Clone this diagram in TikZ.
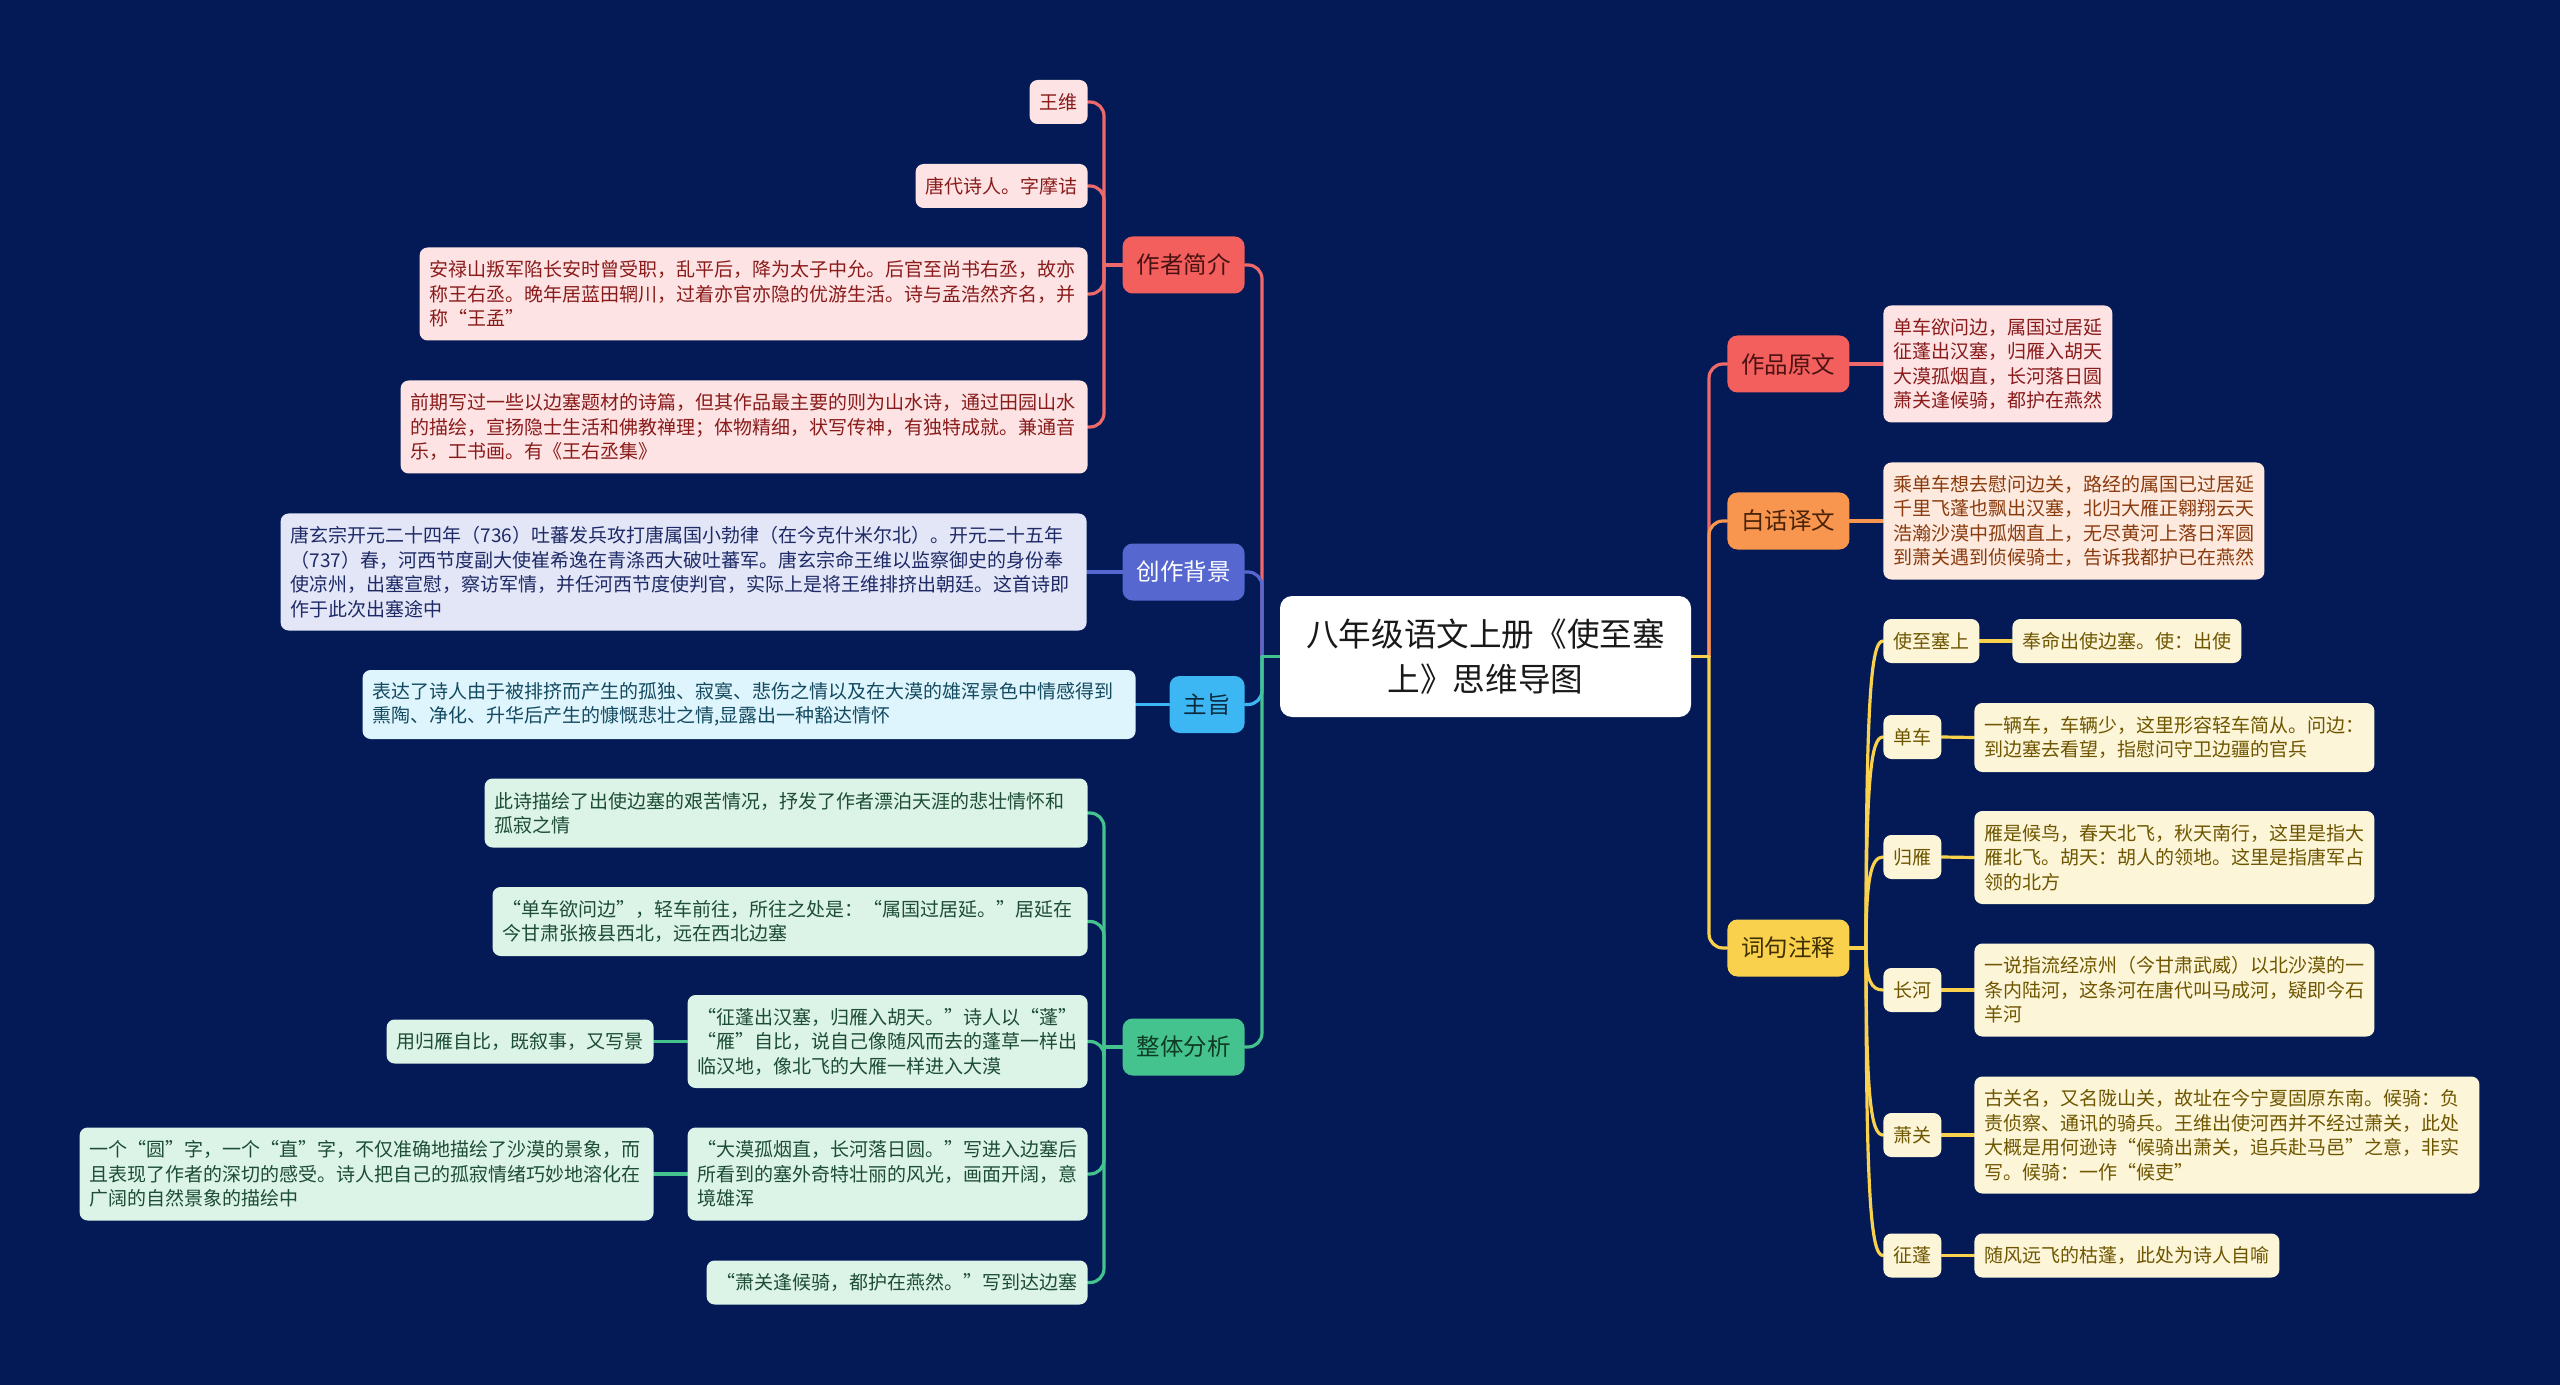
\documentclass[tikz,border=0pt]{standalone}
\usepackage{fontspec}
\setmainfont{Noto Sans CJK SC}
\usetikzlibrary{calc}
\pgfdeclarelayer{bgl}
\pgfdeclarelayer{lnl}
\pgfsetlayers{bgl,lnl,main}
\definecolor{bgc}{HTML}{031A56}
\definecolor{cRed}{HTML}{F25F5C}
\definecolor{cRedT}{HTML}{4A1212}
\definecolor{cRedL}{HTML}{FDE3E3}
\definecolor{cRedLT}{HTML}{8A1B1B}
\definecolor{cRedLn}{HTML}{EE6A6A}
\definecolor{cBlue}{HTML}{5667D0}
\definecolor{cBlueL}{HTML}{E3E6F7}
\definecolor{cBlueLT}{HTML}{1E2A66}
\definecolor{cCyan}{HTML}{3DB7F3}
\definecolor{cCyanT}{HTML}{0B2A3E}
\definecolor{cCyanL}{HTML}{DFF5FD}
\definecolor{cCyanLT}{HTML}{134A60}
\definecolor{cGreen}{HTML}{45C38F}
\definecolor{cGreenT}{HTML}{0F3A24}
\definecolor{cGreenL}{HTML}{DCF3E7}
\definecolor{cGreenLT}{HTML}{1D4D35}
\definecolor{cOrange}{HTML}{F8964F}
\definecolor{cOrangeT}{HTML}{4A2207}
\definecolor{cOrangeL}{HTML}{FDE9DD}
\definecolor{cOrangeLT}{HTML}{8A3B0E}
\definecolor{cYellow}{HTML}{F9D14C}
\definecolor{cYellowT}{HTML}{3D2F00}
\definecolor{cYellowL}{HTML}{FDF5D8}
\definecolor{cYellowLT}{HTML}{6E5600}
\newcommand\mmleaf{\fontsize{9.5pt}{12.25pt}\selectfont}
\newcommand\mmbranch{\fontsize{11.75pt}{14pt}\selectfont}
\newcommand\mmcenter{\fontsize{16.3pt}{22.5pt}\selectfont}
\begin{document}
\begin{tikzpicture}[x=0.5pt,y=-0.5pt,
  mm/.style={rounded corners=4pt, inner ysep=2pt},
  lf/.style={mm, inner xsep=5pt, align=left, font=\mmleaf},
  lnA/.style={minimum height=22pt},
  lnB/.style={minimum height=34.5pt},
  lnC/.style={minimum height=46.5pt},
  lnD/.style={minimum height=58.5pt},
  br/.style={mm, rounded corners=5pt, inner xsep=7pt, minimum height=28.5pt, font=\mmbranch},
  redL/.style={lf, fill=cRedL, text=cRedLT},
  blueL/.style={lf, fill=cBlueL, text=cBlueLT},
  cyanL/.style={lf, fill=cCyanL, text=cCyanLT},
  greenL/.style={lf, fill=cGreenL, text=cGreenLT},
  orangeL/.style={lf, fill=cOrangeL, text=cOrangeLT},
  yellowL/.style={lf, fill=cYellowL, text=cYellowLT},
  cn/.style={line width=1.6pt, line cap=round},
  cnr/.style={cn, rounded corners=7pt}
]
\begin{pgfonlayer}{bgl}
\fill[bgc] (0,0) rectangle (2560,1385);
\end{pgfonlayer}
\useasboundingbox (0,0) rectangle (2560,1385);

% center
\node[mm, rounded corners=6pt, fill=white, text=black!90, align=center, font=\mmcenter,
      minimum width=205.5pt, minimum height=60.5pt] (c) at (1485.5,656.5)
      {八年级语文上册《使至塞\\上》思维导图};

% left branches
\node[br, fill=cRed, text=cRedT, anchor=east] (zz) at (1245,265) {作者简介};
\node[br, fill=cBlue, text=white, anchor=east] (cz) at (1245,572) {创作背景};
\node[br, fill=cCyan, text=cCyanT, anchor=east] (zy) at (1245,704.5) {主旨};
\node[br, fill=cGreen, text=cGreenT, anchor=east] (zt) at (1245,1047) {整体分析};
% right branches
\node[br, fill=cRed, text=cRedT, anchor=west] (yw) at (1727,364) {作品原文};
\node[br, fill=cOrange, text=cOrangeT, anchor=west] (bh) at (1727,521) {白话译文};
\node[br, fill=cYellow, text=cYellowT, anchor=west] (cj) at (1727,948) {词句注释};

% 作者简介 leaves
\node[redL, lnA, anchor=east] (a1) at (1088,102) {王维};
\node[redL, lnA, anchor=east] (a2) at (1088,186) {唐代诗人。字摩诘};
\node[redL, lnC, anchor=east, text width=324pt] (a3) at (1088,294) {安禄山叛军陷长安时曾受职，乱平后，降为太子中允。后官至尚书右丞，故亦\\称王右丞。晚年居蓝田辋川，过着亦官亦隐的优游生活。诗与孟浩然齐名，并\\称“王孟”};
\node[redL, lnC, anchor=east, text width=333.5pt] (a4) at (1088,427) {前期写过一些以边塞题材的诗篇，但其作品最主要的则为山水诗，通过田园山水\\的描绘，宣扬隐士生活和佛教禅理；体物精细，状写传神，有独特成就。兼通音\\乐，工书画。有《王右丞集》};

% 创作背景 leaf
\node[blueL, lnD, anchor=east, text width=393pt] (b1) at (1087,572) {唐玄宗开元二十四年（736）吐蕃发兵攻打唐属国小勃律（在今克什米尔北）。开元二十五年\\（737）春，河西节度副大使崔希逸在青涤西大破吐蕃军。唐玄宗命王维以监察御史的身份奉\\使凉州，出塞宣慰，察访军情，并任河西节度使判官，实际上是将王维排挤出朝廷。这首诗即\\作于此次出塞途中};

% 主旨 leaf
\node[cyanL, lnB, anchor=east, text width=376.5pt] (z1) at (1136,704.5) {表达了诗人由于被排挤而产生的孤独、寂寞、悲伤之情以及在大漠的雄浑景色中情感得到\\熏陶、净化、升华后产生的慷慨悲壮之情,显露出一种豁达情怀};

% 整体分析 leaves
\node[greenL, lnB, anchor=east, text width=291.5pt] (t1) at (1088,813) {此诗描绘了出使边塞的艰苦情况，抒发了作者漂泊天涯的悲壮情怀和\\孤寂之情};
\node[greenL, lnB, anchor=east, text width=287.5pt] (t2) at (1088,921.5) {“单车欲问边”，轻车前往，所往之处是：“属国过居延。”居延在\\今甘肃张掖县西北，远在西北边塞};
\node[greenL, lnC, anchor=east] (t3) at (1088,1041.5) {“征蓬出汉塞，归雁入胡天。”诗人以“蓬”\\“雁”自比，说自己像随风而去的蓬草一样出\\临汉地，像北飞的大雁一样进入大漠};
\node[greenL, lnA, anchor=east] (t3a) at (654,1041.5) {用归雁自比，既叙事，又写景};
\node[greenL, lnC, anchor=east] (t4) at (1088,1174) {“大漠孤烟直，长河落日圆。”写进入边塞后\\所看到的塞外奇特壮丽的风光，画面开阔，意\\境雄浑};
\node[greenL, lnC, anchor=east, text width=277pt] (t4a) at (654,1174) {一个“圆”字，一个“直”字，不仅准确地描绘了沙漠的景象，而\\且表现了作者的深切的感受。诗人把自己的孤寂情绪巧妙地溶化在\\广阔的自然景象的描绘中};
\node[greenL, lnA, anchor=east] (t5) at (1088,1282.5) {“萧关逢候骑，都护在燕然。”写到达边塞};

% 作品原文 / 白话译文 leaves
\node[redL, lnD, anchor=west] (y1) at (1883,364) {单车欲问边，属国过居延\\征蓬出汉塞，归雁入胡天\\大漠孤烟直，长河落日圆\\萧关逢候骑，都护在燕然};
\node[orangeL, lnD, anchor=west] (h1) at (1883,521) {乘单车想去慰问边关，路经的属国已过居延\\千里飞蓬也飘出汉塞，北归大雁正翱翔云天\\浩瀚沙漠中孤烟直上，无尽黄河上落日浑圆\\到萧关遇到侦候骑士，告诉我都护已在燕然};

% 词句注释 leaves
\node[yellowL, lnA, anchor=west] (w1) at (1883,641) {使至塞上};
\node[yellowL, lnA, anchor=west] (w1a) at (2012,641) {奉命出使边塞。使：出使};
\node[yellowL, lnA, anchor=west] (w2) at (1883,737) {单车};
\node[yellowL, lnB, anchor=west] (w2a) at (1974,737.5) {一辆车，车辆少，这里形容轻车简从。问边：\\到边塞去看望，指慰问守卫边疆的官兵};
\node[yellowL, lnA, anchor=west] (w3) at (1883,857) {归雁};
\node[yellowL, lnC, anchor=west] (w3a) at (1974,857.5) {雁是候鸟，春天北飞，秋天南行，这里是指大\\雁北飞。胡天：胡人的领地。这里是指唐军占\\领的北方};
\node[yellowL, lnA, anchor=west] (w4) at (1883,990) {长河};
\node[yellowL, lnC, anchor=west] (w4a) at (1974,990) {一说指流经凉州（今甘肃武威）以北沙漠的一\\条内陆河，这条河在唐代叫马成河，疑即今石\\羊河};
\node[yellowL, lnA, anchor=west] (w5) at (1883,1135) {萧关};
\node[yellowL, lnD, anchor=west, text width=242.5pt] (w5a) at (1974,1135) {古关名，又名陇山关，故址在今宁夏固原东南。候骑：负\\责侦察、通讯的骑兵。王维出使河西并不经过萧关，此处\\大概是用何逊诗“候骑出萧关，追兵赴马邑”之意，非实\\写。候骑：一作“候吏”};
\node[yellowL, lnA, anchor=west] (w6) at (1883,1255.5) {征蓬};
\node[yellowL, lnA, anchor=west] (w6a) at (1974,1255.5) {随风远飞的枯蓬，此处为诗人自喻};

% spine coordinates
\coordinate (spL) at (1262,656.5);
\coordinate (spR) at (1709,656.5);
\coordinate (spA) at (1104,265);
\coordinate (spT) at (1104,1047);
\coordinate (spW) at (1866,948);

\begin{pgfonlayer}{lnl}
% left main
\draw[cnr, draw=cRedLn] (spL) |- (zz.east);
\draw[cn, draw=cRedLn] (c.west) -- (spL);
\draw[cnr, draw=cBlue] (spL) |- (cz.east);
\draw[cn, draw=cBlue] (c.west) -- (spL);
\draw[cnr, draw=cCyan] (spL) |- (zy.east);
\draw[cnr, draw=cGreen] (spL) |- (zt.east);
\draw[cn, draw=cGreen] (c.west) -- (spL);
% right main
\draw[cnr, draw=cRedLn] (spR) |- (yw.west);
\draw[cnr, draw=cOrange] (spR) |- (bh.west);
\draw[cnr, draw=cYellow] (spR) |- (cj.west);
\draw[cn, draw=cYellow] (c.east) -- (spR);
% 作者简介
\draw[cn, draw=cRedLn] (zz.west) -- (spA);
\draw[cnr, draw=cRedLn] (spA) |- (a1.east);
\draw[cnr, draw=cRedLn] (spA) |- (a2.east);
\draw[cnr, draw=cRedLn] (spA) |- (a3.east);
\draw[cnr, draw=cRedLn] (spA) |- (a4.east);
% 创作背景, 主旨
\draw[cn, draw=cBlue] (cz.west) -- (b1.east);
\draw[cn, draw=cCyan] (zy.west) -- (z1.east);
% 整体分析
\draw[cn, draw=cGreen] (zt.west) -- (spT);
\draw[cnr, draw=cGreen] (spT) |- (t1.east);
\draw[cnr, draw=cGreen] (spT) |- (t2.east);
\draw[cnr, draw=cGreen] (spT) |- (t3.east);
\draw[cnr, draw=cGreen] (spT) |- (t4.east);
\draw[cnr, draw=cGreen] (spT) |- (t5.east);
\draw[cn, draw=cGreen] (t3.west) -- (t3a.east);
\draw[cn, draw=cGreen] (t4.west) -- (t4a.east);
% 作品原文, 白话译文
\draw[cn, draw=cRedLn] (yw.east) -- (y1.west);
\draw[cn, draw=cOrange] (bh.east) -- (h1.west);
% 词句注释
\draw[cn, draw=cYellow] (cj.east) -- (spW);
\draw[cn, draw=cYellow] (spW) .. controls +(0,-250) and +(-12,0) .. (w1.west);
\draw[cn, draw=cYellow] (spW) .. controls +(0,-170) and +(-12,0) .. (w2.west);
\draw[cn, draw=cYellow] (spW) .. controls +(0,-70) and +(-12,0) .. (w3.west);
\draw[cn, draw=cYellow] (spW) .. controls +(0,32) and +(-12,0) .. (w4.west);
\draw[cn, draw=cYellow] (spW) .. controls +(0,150) and +(-12,0) .. (w5.west);
\draw[cn, draw=cYellow] (spW) .. controls +(0,250) and +(-12,0) .. (w6.west);
\draw[cn, draw=cYellow] (w1.east) -- (w1a.west);
\draw[cn, draw=cYellow] (w2.east) -- (w2a.west);
\draw[cn, draw=cYellow] (w3.east) -- (w3a.west);
\draw[cn, draw=cYellow] (w4.east) -- (w4a.west);
\draw[cn, draw=cYellow] (w5.east) -- (w5a.west);
\draw[cn, draw=cYellow] (w6.east) -- (w6a.west);
\end{pgfonlayer}
\end{tikzpicture}
\end{document}
